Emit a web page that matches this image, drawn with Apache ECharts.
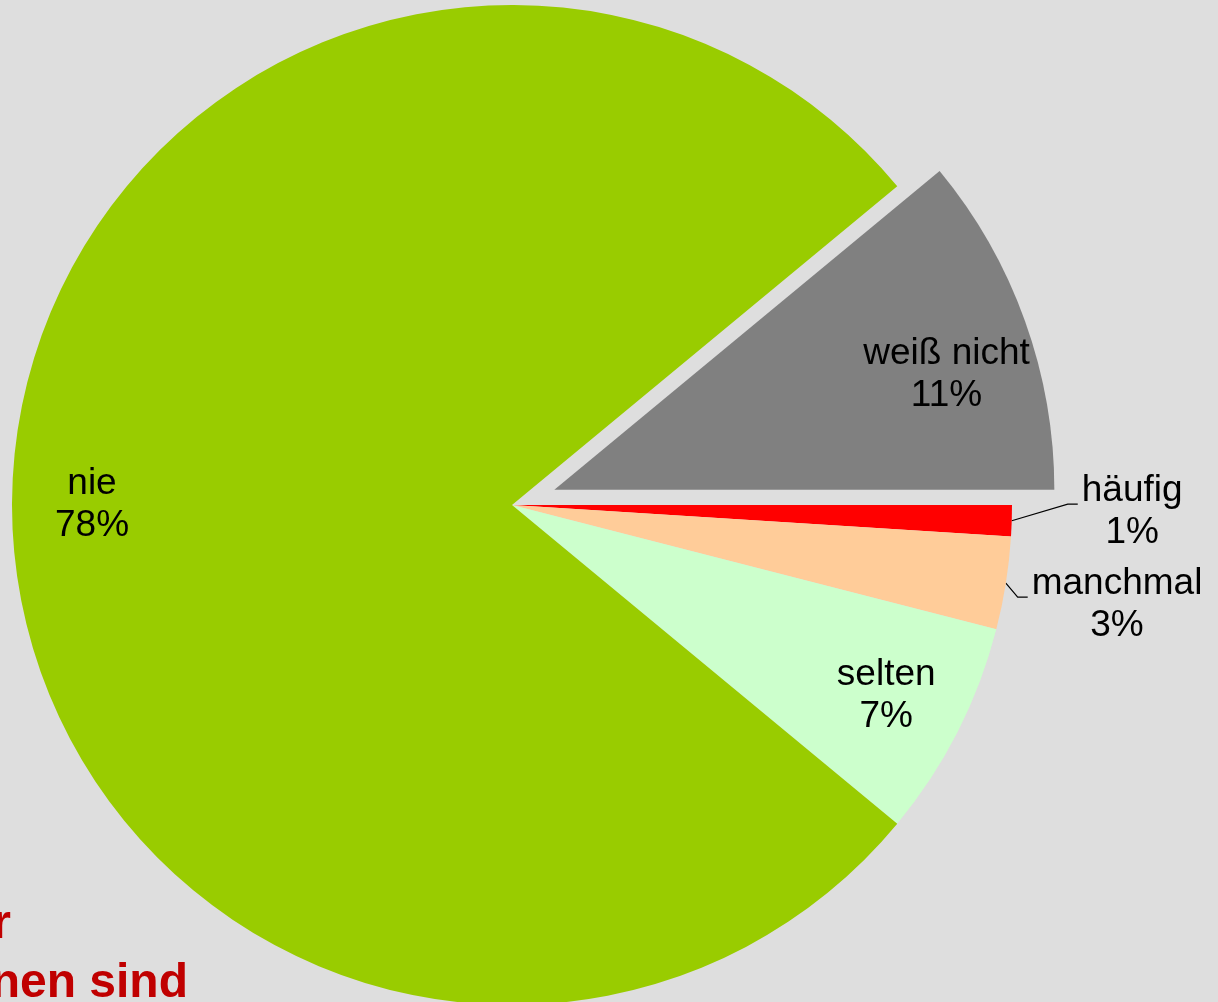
<!DOCTYPE html>
<html>
<head>
<meta charset="utf-8">
<title>Pie</title>
<script src="https://cdn.jsdelivr.net/npm/echarts@6/dist/echarts.min.js"></script>
<style>
  html, body { margin: 0; padding: 0; background: #dedede; }
  #chart { width: 1218px; height: 1002px; }
</style>
</head>
<body>
<div id="chart"></div>
<script>
// Answer categories and their shares in percent
const categories = ['häufig', 'manchmal', 'selten', 'nie', 'weiß nicht'];
const shares = [1, 3, 7, 78, 11];
// Heading fragments shown at the lower left
const headingLines = ['r', 'nen sind'];

const sliceColors = ['#ff0000', '#ffcc99', '#ccffcc', '#99cc00', '#808080'];
const outsideLabels = ['häufig', 'manchmal'];
const explodedSlice = 'weiß nicht';
// leader line [length, length2] and vertical nudge of the outside labels
const lineSettings = { 'häufig': [14, 52, -9], 'manchmal': [12, 10, 20] };

const FONT = '"Liberation Sans", Arial, Helvetica, sans-serif';
const CENTER = [512, 505];
const RADIUS = 500;
const OFFSET = 45;

const labelText = {
  fontFamily: FONT, fontSize: 37, lineHeight: 42, color: '#000'
};

// Main pie: colored slices; the two narrow slices carry outside labels
const mainData = categories.map((name, i) => {
  const outside = outsideLabels.includes(name);
  const item = {
    name, value: shares[i],
    selected: name === explodedSlice,
    itemStyle: { color: sliceColors[i] },
    select: { itemStyle: { color: sliceColors[i] } },
    label: { show: outside },
    labelLine: { show: outside }
  };
  if (outside) {
    item.labelLine.length = lineSettings[name][0];
    item.labelLine.length2 = lineSettings[name][1];
  }
  return item;
});

// Transparent ring used only to place the inside labels further out
const ringData = categories.map((name, i) => ({
  name, value: shares[i],
  selected: name === explodedSlice,
  label: {
    show: !outsideLabels.includes(name),
    padding: name === explodedSlice ? [54, 6, 0, 0] : 0
  }
}));

const chart = echarts.init(document.getElementById('chart'), null, { renderer: 'canvas' });
chart.setOption({
  backgroundColor: '#dedede',
  animation: false,
  graphic: [
    {
      type: 'text', x: 11, y: 925,
      style: { text: headingLines[0], fill: '#c00000', font: 'bold 48px ' + FONT, align: 'right', verticalAlign: 'middle' }
    },
    {
      type: 'text', x: 188, y: 984,
      style: { text: headingLines[1], fill: '#c00000', font: 'bold 48px ' + FONT, align: 'right', verticalAlign: 'middle' }
    }
  ],
  series: [
    {
      type: 'pie',
      center: CENTER,
      radius: RADIUS,
      startAngle: 0,
      clockwise: true,
      selectedMode: 'single',
      selectedOffset: OFFSET,
      silent: true,
      emphasis: { disabled: true },
      avoidLabelOverlap: false,
      itemStyle: { borderWidth: 0 },
      label: {
        position: 'outside',
        formatter: '{t|{b}}\n{t|{c}%}',
        distanceToLabelLine: 4,
        rich: { t: Object.assign({ align: 'center' }, labelText) }
      },
      labelLine: { lineStyle: { color: '#000', width: 1.2 } },
      // nudge the outside labels and bend their leader lines up to the first text line
      labelLayout: function (params) {
        const s = lineSettings[categories[params.dataIndex]];
        if (!s) return {};
        const pts = params.labelLinePoints;
        if (!pts || pts.length < 3) return { dy: s[2] };
        const end = [pts[2][0], pts[2][1] + s[2] - 8];
        const mid = [end[0] - 10, end[1]];
        return { dy: s[2], labelLinePoints: [pts[0], mid, end] };
      },
      data: mainData
    },
    {
      type: 'pie',
      center: CENTER,
      radius: [334, RADIUS],
      startAngle: 0,
      clockwise: true,
      selectedMode: 'single',
      selectedOffset: OFFSET,
      silent: true,
      emphasis: { disabled: true },
      avoidLabelOverlap: false,
      itemStyle: { color: 'rgba(0,0,0,0)', borderWidth: 0 },
      select: { itemStyle: { color: 'rgba(0,0,0,0)' } },
      label: {
        position: 'inside',
        formatter: '{t|{b}}\n{t|{c}%}',
        rich: { t: Object.assign({ align: 'center' }, labelText) }
      },
      labelLine: { show: false },
      data: ringData
    }
  ]
});
</script>
</body>
</html>
